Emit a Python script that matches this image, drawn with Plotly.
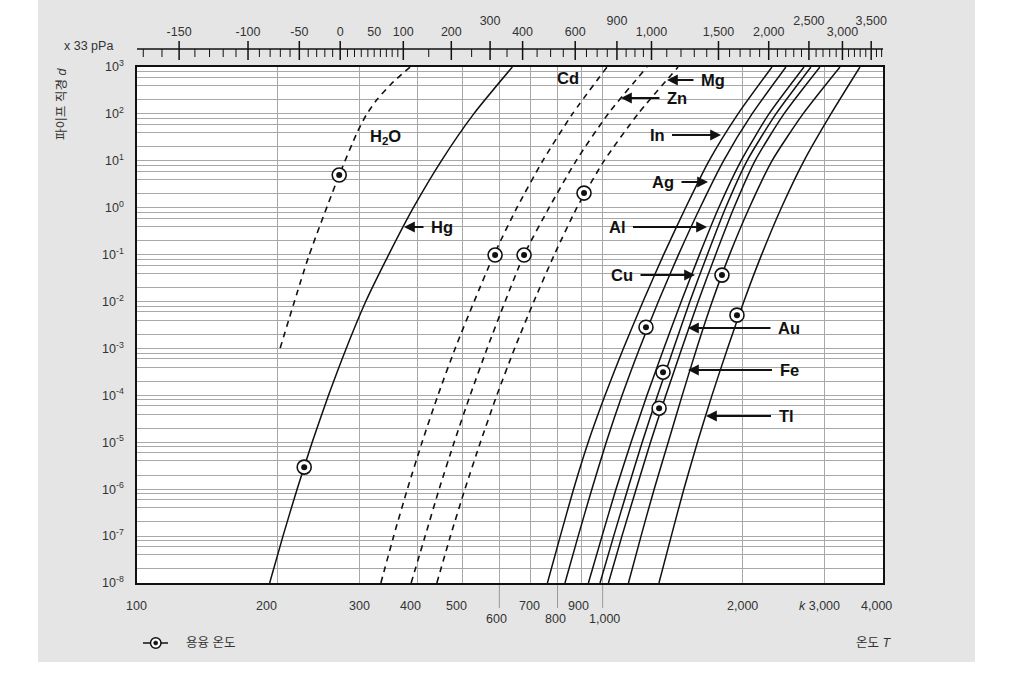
import numpy as np
import plotly.graph_objects as go

# ---------------- data (T in K, pressure in units of 33 pPa) ----------------
decades = [1e-8, 1e-7, 1e-6, 1e-5, 1e-4, 1e-3, 1e-2, 1e-1, 1e0, 1e1, 1e2, 1e3]

h2o_T = [203, 233.5, 271.8, 296.6, 310.6, 327.4, 351.4, 386]
h2o_p = [1.02e-3, 8.9e-2, 4.97, 38.9, 94.6, 200, 434, 1000]
hg_T = [192.7, 205.8, 220.7, 237.8, 257.8, 281.4, 309.9, 347.2, 392.2, 450.4, 528.6, 639.8]
cd_T = [334.0, 355.8, 380.7, 409.4, 442.8, 482.2, 529.6, 584.4, 654.4, 743.5, 861.1, 1022]
zn_T = [387.9, 415.7, 445.5, 479.8, 519.3, 564.8, 617.3, 678.1, 767.3, 876.8, 1027, 1245]
mg_T = [440.5, 471.1, 506.1, 546.4, 592.5, 647.0, 711.5, 787.6, 880.3, 1007, 1191, 1452]
in_T = [761, 811, 866, 931, 1012, 1108, 1221, 1352, 1507, 1692, 1953, 2310]
ag_T = [830, 886, 948, 1018, 1101, 1200, 1317, 1455, 1619, 1818, 2093, 2475]
al_T = [932, 997, 1068, 1151, 1245, 1353, 1475, 1614, 1775, 1982, 2276, 2706]
cu_T = [987, 1056, 1132, 1216, 1312, 1420, 1539, 1678, 1837, 2042, 2356, 2801]
au_T = [1029, 1100, 1180, 1267, 1367, 1479, 1604, 1748, 1914, 2124, 2451, 2928]
fe_T = [1136, 1209, 1290, 1383, 1482, 1592, 1719, 1873, 2065, 2310, 2693, 3233]
ti_T = [1321, 1404, 1494, 1598, 1717, 1854, 2010, 2195, 2420, 2706, 3092, 3569]

# melting points (circled dots)
melt_T = [271.8, 228.6, 587.5, 678, 912, 1239, 1348, 1322, 1804, 1943]
melt_p = [4.97, 2.95e-6, 0.098, 0.098, 2.05, 2.84e-3, 3.12e-4, 5.32e-5, 3.66e-2, 5.13e-3]

# bottom axis (Kelvin) labels
bottom_vals = [100, 200, 300, 400, 500, 600, 700, 800, 900, 1000, 2000, 3000, 4000]
bottom_text = ['100', '200', '300', '400', '500', '600', '700', '800', '900',
               '1,000', '2,000', '<i>k</i> 3,000', '4,000']
grid_T = [200, 300, 400, 500, 600, 700, 800, 900, 1000, 2000, 3000]

# top axis (Celsius)
top_major_C = [-150, -100, -50, 0, 100, 200, 300, 400, 600, 800, 1000, 1500, 2000, 2500, 3000, 3500]
top_label_C = [-150, -100, -50, 0, 50, 100, 200, 300, 400, 600, 800, 1000, 1500, 2000, 2500, 3000, 3500]
top_label_text = ['-150', '-100', '-50', '0', '50', '100', '200', '300', '400', '600', '900',
                  '1,000', '1,500', '2,000', '2,500', '3,000', '3,500']
top_minor_C = ([c for c in range(-170, 100, 10)] + [c for c in range(150, 1000, 50)]
               + [c for c in range(1100, 3800, 100)])

# ---------------- layout helpers (pixel -> paper) ----------------
W, H = 1013, 675
ML, MR, MT, MB = 137, 130, 10, 92
PW, PH = W - ML - MR, H - MT - MB
def fx(px):
    return (px - ML) / PW
def fy(py):
    return (H - MB - py) / PH

BG = '#e5e5e5'
GRID = '#a8a8a8'
INK = '#111111'
TXT = '#333333'
FONT = 'Liberation Sans, Arial, Noto Sans CJK KR, sans-serif'
MAIN_TOP = fy(67)

fig = go.Figure()

def curve(T, p, dashed=False):
    fig.add_trace(go.Scatter(x=T, y=p, mode='lines', line_shape='spline',
                             line=dict(color=INK, width=1.6 if dashed else 1.5, smoothing=0.6,
                                       dash='6px,5px' if dashed else 'solid'),
                             hoverinfo='skip'))

curve(h2o_T, h2o_p, True)
curve(hg_T, decades)
curve(cd_T, decades, True)
curve(zn_T, decades, True)
curve(mg_T, decades, True)
for T in [in_T, ag_T, al_T, cu_T, au_T, fe_T, ti_T]:
    curve(T, decades)

fig.add_trace(go.Scatter(x=melt_T, y=melt_p, mode='markers',
                         marker=dict(size=14, color='white', line=dict(color=INK, width=1.6)),
                         hoverinfo='skip'))
fig.add_trace(go.Scatter(x=melt_T, y=melt_p, mode='markers',
                         marker=dict(size=6, color=INK), hoverinfo='skip'))

# ---------------- top Celsius axis drawn in a strip above the plot ----------------
def segs(vals, v0, v1):
    xs, ys = [], []
    for c in vals:
        xs += [c + 273.15, c + 273.15, None]
        ys += [v0, v1, None]
    return xs, ys

minor_only = [c for c in top_minor_C if c not in top_major_C]
xs, ys = segs(minor_only, 10, 18)
fig.add_trace(go.Scatter(x=xs, y=ys, xaxis='x2', yaxis='y2', mode='lines',
                         line=dict(color=INK, width=1), hoverinfo='skip', cliponaxis=False))
xs, ys = segs(top_major_C, 7, 26)
fig.add_trace(go.Scatter(x=xs, y=ys, xaxis='x2', yaxis='y2', mode='lines',
                         line=dict(color=INK, width=1.5), hoverinfo='skip', cliponaxis=False))
fig.add_trace(go.Scatter(x=[100, 4000], y=[18, 18], xaxis='x2', yaxis='y2', mode='lines',
                         line=dict(color=INK, width=1.5), hoverinfo='skip', cliponaxis=False))
high = {300, 800, 2500, 3500}
fig.add_trace(go.Scatter(x=[c + 273.15 for c in top_label_C],
                         y=[45.3 if c in high else 34.3 for c in top_label_C],
                         text=top_label_text, mode='text', xaxis='x2', yaxis='y2',
                         textfont=dict(size=12.5, color=TXT, family=FONT),
                         hoverinfo='skip', cliponaxis=False))

# ---------------- axes ----------------
ytick_vals, ytick_text = [], []
for n in range(-8, 3):
    for m in [1, 2, 4, 6, 8]:
        ytick_vals.append(m * 10.0 ** n)
        ytick_text.append('10<sup>%d</sup>' % n if m == 1 else '')
ytick_vals.append(1e3)
ytick_text.append('10<sup>3</sup>')

xr = [2, np.log10(4000)]
fig.update_layout(
    width=W, height=H, margin=dict(l=ML, r=MR, t=MT, b=MB, autoexpand=False),
    paper_bgcolor='white', plot_bgcolor=BG, showlegend=False,
    font=dict(family=FONT, color=TXT),
    xaxis=dict(type='log', range=xr, domain=[0, 1], anchor='y', tickmode='array', tickvals=grid_T,
               showticklabels=False, ticks='', showgrid=True, gridcolor=GRID, gridwidth=1,
               showline=True, mirror=True, linecolor=INK, linewidth=1.5, zeroline=False,
               automargin=False),
    yaxis=dict(type='log', range=[-8, 3], domain=[0, MAIN_TOP], anchor='x', tickmode='array',
               tickvals=ytick_vals, ticktext=ytick_text, ticks='outside', ticklen=9,
               tickcolor='rgba(0,0,0,0)', tickfont=dict(size=12.5, color=TXT, family=FONT),
               showgrid=True, gridcolor=GRID, gridwidth=1, automargin=False,
               showline=True, mirror=True, linecolor=INK, linewidth=1.5, zeroline=False),
    xaxis2=dict(type='log', range=xr, domain=[0, 1], anchor='y2', visible=False, automargin=False),
    yaxis2=dict(range=[0, 57], domain=[MAIN_TOP, 1], anchor='x2', visible=False, automargin=False),
)

shapes = [
    dict(type='rect', xref='paper', yref='paper', x0=fx(38), x1=fx(975), y0=fy(662), y1=fy(0),
         fillcolor=BG, line=dict(width=0), layer='below'),
    dict(type='rect', xref='x domain', yref='y domain', x0=0, x1=1, y0=0, y1=1,
         fillcolor='white', line=dict(width=0), layer='below'),
]
for v in [600, 800, 1000]:
    shapes.append(dict(type='line', xref='x', yref='paper', x0=v, x1=v, y0=0, y1=fy(608),
                       line=dict(color='#999999', width=1), layer='below'))
# legend symbol
shapes.append(dict(type='line', xref='paper', yref='paper', x0=fx(143), x1=fx(168),
                   y0=fy(643), y1=fy(643), line=dict(color=INK, width=1.5)))
shapes.append(dict(type='circle', xref='paper', yref='paper', x0=fx(150.5), x1=fx(161),
                   y0=fy(648.2), y1=fy(637.8), fillcolor='white', line=dict(color=INK, width=1.5)))
shapes.append(dict(type='circle', xref='paper', yref='paper', x0=fx(153.6), x1=fx(157.8),
                   y0=fy(645.1), y1=fy(640.9), fillcolor=INK, line=dict(color=INK, width=0.5)))
fig.update_layout(shapes=shapes)

ann = []
def note(px, py, text, size=12.5, color=TXT, xanchor='center', **kw):
    ann.append(dict(x=fx(px), y=fy(py), xref='paper', yref='paper', text=text, showarrow=False,
                    xanchor=xanchor, yanchor='middle', font=dict(size=size, color=color, family=FONT), **kw))

# bottom labels
bottom_row = {600: 1, 800: 1, 1000: 1}
bottom_shift = {100: -1, 200: -11, 300: 0, 400: -7, 500: -6, 600: -3, 700: -1, 800: -2,
                900: -3, 1000: 2, 2000: 0, 3000: -5, 4000: -7}
for v, t in zip(bottom_vals, bottom_text):
    ann.append(dict(x=np.log10(v), xref='x', y=fy(619 if bottom_row.get(v) else 606), yref='paper',
                    text=t, showarrow=False, xshift=bottom_shift[v], xanchor='center', yanchor='middle',
                    font=dict(size=12.5, color=TXT, family=FONT)))
note(88, 46, 'x 33 pPa')
note(62, 104, '파이프 직경 <i>d</i>', textangle=-90)
note(184, 643, '용융 온도', xanchor='left')
note(873, 643, '온도 <i>T</i>')

# curve labels: (text, text centre px, arrow head px or None)
labels = [
    ('H<sub>2</sub>O', (385, 137), None),
    ('Hg', (442, 227), (404, 227)),
    ('Cd', (568, 78), None),
    ('Mg', (713, 80), (667, 80)),
    ('Zn', (677, 98), (621, 98)),
    ('In', (657, 135), (721, 135)),
    ('Ag', (663, 182), (708, 182)),
    ('Al', (617, 227), (707, 227)),
    ('Cu', (622, 275), (695, 275)),
    ('Au', (789, 328), (688, 328)),
    ('Fe', (789, 370), (688, 370)),
    ('Tl', (786, 416), (706, 416)),
]
for t, (tx, ty), head in labels:
    f = dict(size=16.5, color=INK, family=FONT)
    if head is None:
        note(tx, ty, '<b>%s</b>' % t, size=16.5, color=INK)
    else:
        hx, hy = head
        ann.append(dict(x=fx(hx), y=fy(hy), xref='paper', yref='paper', text='<b>%s</b>' % t,
                        showarrow=True, ax=tx - hx, ay=ty - hy, arrowhead=2, arrowsize=1.2,
                        arrowwidth=1.8, arrowcolor=INK, standoff=0, startstandoff=6, font=f))
fig.update_layout(annotations=ann)

fig.write_html('out.html')
